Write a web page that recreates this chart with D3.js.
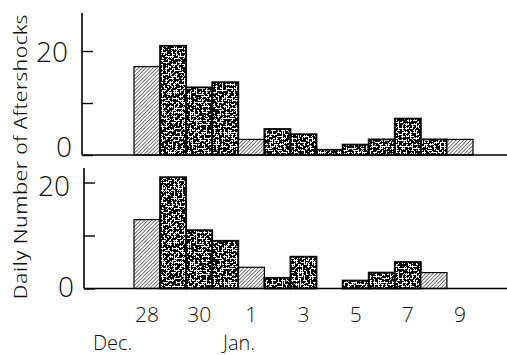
<!DOCTYPE html>
<html>
<head>
<meta charset="utf-8">
<script src="https://cdn.jsdelivr.net/npm/d3@7"></script>
<style>
  html, body { margin: 0; padding: 0; background: #fff; }
  svg { display: block; }
  text { font-family: "Open Sans", "DejaVu Sans", sans-serif; font-stretch: 80%; font-weight: 350; fill: #111; }
  text.yl { font-stretch: 92%; }
  text.xl { font-stretch: 92%; }
  text.ml { font-stretch: 100%; }
</style>
</head>
<body>
<svg id="chart" width="507" height="355"></svg>
<script>
// ---- data ----
const days = ["Dec 28","Dec 29","Dec 30","Dec 31","Jan 1","Jan 2","Jan 3","Jan 4","Jan 5","Jan 6","Jan 7","Jan 8","Jan 9"];
const upperCounts = [17, 21, 13, 14, 3, 5, 4, 1, 2, 3, 7, 3, 3];
const upperKind   = ["h","s","s","s","h","s","s","s","s","s","s","s","h"];
const lowerCounts = [13, 21, 11, 9, 4, 2, 6, 0, 1.5, 3, 5, 3, 0];
const lowerKind   = ["h","s","s","s","h","s","s","s","s","s","s","h","s"];
const xTickDays   = ["Dec 28","Dec 30","Jan 1","Jan 3","Jan 5","Jan 7","Jan 9"];
const xTickLabels = ["28","30","1","3","5","7","9"];
const yTicks      = [0, 10, 20];
const yTickLabels = ["0", "", "20"];
const monthLabels = ["Dec.", "Jan."];
const yTitle = "Daily Number of Aftershocks";

const svg = d3.select("#chart");
const defs = svg.append("defs");

const hatch = defs.append("pattern").attr("id","hatch").attr("patternUnits","userSpaceOnUse")
  .attr("width",2.6).attr("height",2.6).attr("patternTransform","rotate(45)");
hatch.append("rect").attr("width",2.6).attr("height",2.6).attr("fill","#fff");
hatch.append("line").attr("x1",0.5).attr("y1",0).attr("x2",0.5).attr("y2",2.6)
  .attr("stroke","#333").attr("stroke-width",0.7);

const nf = defs.append("filter").attr("id","noise").attr("x",0).attr("y",0).attr("width","100%").attr("height","100%")
  .attr("color-interpolation-filters","sRGB");
nf.append("feTurbulence").attr("type","fractalNoise").attr("baseFrequency","0.5").attr("numOctaves",3).attr("seed",11).attr("result","t");
nf.append("feColorMatrix").attr("type","matrix")
  .attr("values","0 0 0 0 0  0 0 0 0 0  0 0 0 0 0  1 0 0 0 0");
const ct = nf.append("feComponentTransfer");
ct.append("feFuncA").attr("type","discrete").attr("tableValues","0 0 0 0 0 0 0 0 0 0 1 1 1 1 1 1 1 1 1 1");
const stip = defs.append("pattern").attr("id","stipple").attr("patternUnits","userSpaceOnUse")
  .attr("width",150).attr("height",150);
stip.append("rect").attr("width",150).attr("height",150).attr("fill","#fff");
stip.append("rect").attr("width",150).attr("height",150).attr("fill","#000").attr("filter","url(#noise)");

const x = d3.scaleBand().domain(days).range([134, 473]).padding(0);

const panels = [
  { counts: upperCounts, kind: upperKind, axisX: 82, top: 13, y: d3.scaleLinear().domain([0,20]).range([155, 51]), lblBase: [157, 62] },
  { counts: lowerCounts, kind: lowerKind, axisX: 84, top: 168, y: d3.scaleLinear().domain([0,20]).range([288.5, 182.5]), lblBase: [297, 196] }
];

panels.forEach(p => {
  const g = svg.append("g");
  const y0 = p.y(0);
  g.selectAll("rect.bar").data(days.filter((d,i) => p.counts[i] > 0))
    .join("rect").attr("class","bar")
    .attr("x", d => x(d))
    .attr("width", x.bandwidth())
    .attr("y", d => p.y(p.counts[days.indexOf(d)]))
    .attr("height", d => y0 - p.y(p.counts[days.indexOf(d)]))
    .attr("fill", d => p.kind[days.indexOf(d)] === "h" ? "url(#hatch)" : "url(#stipple)")
    .attr("stroke", "#000")
    .attr("stroke-width", d => p.kind[days.indexOf(d)] === "h" ? 1.2 : 1.8);
  g.append("line").attr("x1", p.axisX).attr("x2", 507).attr("y1", y0).attr("y2", y0)
    .attr("stroke","#000").attr("stroke-width",1.6);
  const ax = d3.axisRight(p.y).tickValues(yTicks).tickSize(11).tickFormat("");
  const ag = g.append("g").attr("transform", `translate(${p.axisX},0)`).call(ax);
  ag.select(".domain").remove();
  ag.selectAll(".tick line").attr("stroke","#000").attr("stroke-width",1.4);
  g.append("line").attr("x1", p.axisX).attr("x2", p.axisX).attr("y1", p.top).attr("y2", y0)
    .attr("stroke","#000").attr("stroke-width",1.6);
  [0, 2].forEach((ti, k) => {
    g.append("text").attr("class","yl")
      .attr("x", p.axisX - (ti === 0 ? 10 : 14)).attr("y", p.lblBase[k])
      .attr("text-anchor","end").attr("font-size", 28)
      .text(yTickLabels[ti]);
  });
});

svg.selectAll("text.xl").data(xTickDays).join("text").attr("class","xl")
  .attr("x", d => x(d) + x.bandwidth()/2).attr("y", 321.5)
  .attr("text-anchor","middle").attr("font-size", 21)
  .text((d,i) => xTickLabels[i]);

svg.append("text").attr("class","ml").attr("x", 93).attr("y", 349.5).attr("font-size", 20).text(monthLabels[0]);
svg.append("text").attr("class","ml").attr("x", 223).attr("y", 349.5).attr("font-size", 20).text(monthLabels[1]);

svg.append("text").attr("transform","translate(27,157) rotate(-90)")
  .attr("text-anchor","middle").attr("font-size", 19)
  .attr("textLength", 285).attr("lengthAdjust","spacingAndGlyphs")
  .text(yTitle);
</script>
</body>
</html>
